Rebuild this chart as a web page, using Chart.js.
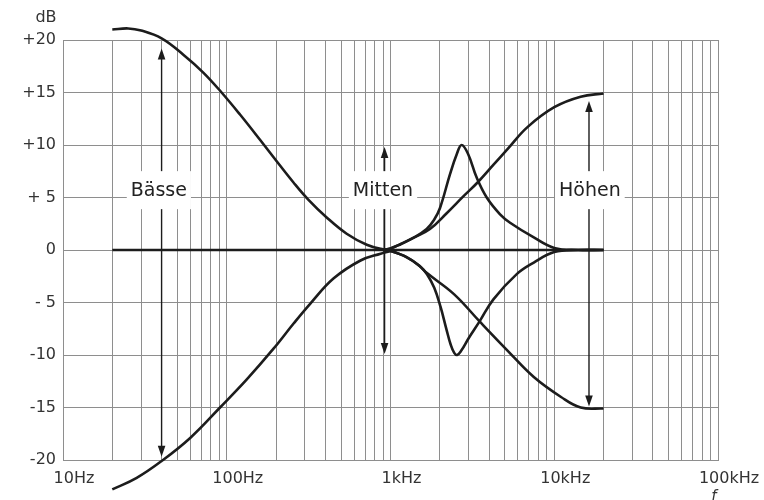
<!DOCTYPE html>
<html><head><meta charset="utf-8">
<script src="https://cdn.jsdelivr.net/npm/chart.js@4/dist/chart.umd.min.js"></script>
<style>html,body{margin:0;padding:0;background:#fff;}canvas{display:block;}</style>
</head><body>
<canvas id="c" width="764" height="500"></canvas>
<script>
// ---- data (frequency in Hz, level in dB) ----
const bassFreqs      = [20, 25, 30, 40, 54.3, 71.9, 93, 120.5, 159.6, 201.8, 254.9, 314.6, 407.6, 540, 716, 904, 1000];
const bassBoostDb    = [21.0, 21.1, 20.9, 20.15, 18.6, 16.9, 15.0, 12.9, 10.5, 8.45, 6.45, 4.8, 3.1, 1.55, 0.5, 0.05, 0];
const bassCutFreqs   = [20, 28.2, 40, 59.8, 91, 133, 193, 256, 324, 450, 656, 870, 1000];
const bassCutDb      = [-22.8, -21.7, -20.1, -17.9, -15.0, -12.3, -9.4, -7.0, -5.1, -2.7, -1.0, -0.35, -0.1];

const midBoostFreqs  = [900, 1000, 1150, 1377, 1663, 1850, 2006, 2307, 2535, 2720, 2986, 3359, 3869, 4667, 5373, 7500, 10000, 14000, 20000];
const midBoostDb     = [0, 0.15, 0.55, 1.15, 2.0, 2.9, 4.0, 7.2, 9.1, 10.0, 9.1, 6.9, 5.0, 3.4, 2.6, 1.2, 0.2, 0, 0];
const midCutFreqs    = [900, 1000, 1260, 1500, 1670, 1850, 2020, 2200, 2330, 2450, 2550, 2700, 3000, 3500, 4250, 5900, 7500, 10000, 14000, 20000];
const midCutDb       = [0, -0.1, -0.7, -1.5, -2.3, -3.6, -5.4, -7.6, -9.0, -9.8, -10.0, -9.6, -8.4, -6.8, -4.7, -2.3, -1.2, -0.2, 0, 0];

const trebleBoostFreqs = [900, 1000, 1150, 1377, 1742, 2203, 2784, 3436, 4245, 5245, 6860, 10000, 14500, 20000];
const trebleBoostDb    = [0, 0.15, 0.55, 1.15, 2.0, 3.5, 5.1, 6.5, 8.1, 9.7, 11.7, 13.6, 14.6, 14.9];
const trebleCutFreqs   = [900, 1000, 1260, 1500, 1670, 2440, 3500, 5200, 7500, 11000, 14500, 20000];
const trebleCutDb      = [0, -0.1, -0.7, -1.5, -2.2, -4.2, -6.8, -9.6, -12.1, -14.0, -15.0, -15.1];

const flatFreqs = [20, 20000];
const flatDb    = [0, 0];

// ---- axis ticks / labels ----
const xDecades      = [10, 100, 1000, 10000];
const xMultipliers  = [1, 2, 3, 4, 5, 6, 7, 8, 9];
const xLabelValues  = [10, 100, 1000, 10000, 100000];
const xLabelTexts   = ['10Hz', '100Hz', '1kHz', '10kHz', '100kHz'];
const yTickValues   = [-20, -15, -10, -5, 0, 5, 10, 15, 20];
const yTickTexts    = ['-20', '-15', '-10', '- 5', '0', '+ 5', '+10', '+15', '+20'];

// ---- annotations ----
const arrowNames  = ['Bässe', 'Mitten', 'Höhen'];
const arrowFreqs  = [40, 920, 16300];
const arrowTopDb  = [19.2, 9.8, 14.2];
const arrowBotDb  = [-19.7, -9.9, -14.9];
const labelFreqs  = [38.5, 900, 16500];
const labelDb     = [5.7, 5.7, 5.7];

function pts(xs, ys) { return xs.map((x, i) => ({ x: x, y: ys[i] })); }

const xGridValues = [];
xDecades.forEach(d => xMultipliers.forEach(m => xGridValues.push(d * m)));
xGridValues.push(100000);

const INK = '#1c1c1c';
const GRID = '#8e8e8e';

function lineDs(data) {
  return {
    data: data, borderColor: INK, borderWidth: 2.6, pointRadius: 0,
    fill: false, tension: 0.4, cubicInterpolationMode: 'default',
    capBezierPoints: false, clip: false
  };
}

const annotationPlugin = {
  id: 'annot',
  afterDatasetsDraw(chart) {
    const ctx = chart.ctx, xs = chart.scales.x, ys = chart.scales.y;
    ctx.save();
    // arrows
    ctx.strokeStyle = INK; ctx.fillStyle = INK; ctx.lineWidth = 1.4;
    arrowFreqs.forEach((f, i) => {
      const x = xs.getPixelForValue(f);
      const yt = ys.getPixelForValue(arrowTopDb[i]);
      const yb = ys.getPixelForValue(arrowBotDb[i]);
      ctx.beginPath(); ctx.moveTo(x, yt + 4); ctx.lineTo(x, yb - 4); ctx.stroke();
      ctx.beginPath(); ctx.moveTo(x, yt); ctx.lineTo(x - 3.8, yt + 11); ctx.lineTo(x + 3.8, yt + 11); ctx.closePath(); ctx.fill();
      ctx.beginPath(); ctx.moveTo(x, yb); ctx.lineTo(x - 3.8, yb - 11); ctx.lineTo(x + 3.8, yb - 11); ctx.closePath(); ctx.fill();
    });
    // labels with white boxes
    ctx.font = '19px "DejaVu Sans"';
    ctx.textAlign = 'center'; ctx.textBaseline = 'middle';
    arrowNames.forEach((t, i) => {
      const x = xs.getPixelForValue(labelFreqs[i]);
      const y = ys.getPixelForValue(labelDb[i]);
      const w = ctx.measureText(t).width + 8;
      ctx.fillStyle = '#fff';
      ctx.fillRect(x - w / 2, y - 19, w, 38);
      ctx.fillStyle = '#222';
      ctx.fillText(t, x, y + 1);
    });
    // axis titles
    ctx.font = '16px "DejaVu Sans"';
    ctx.fillStyle = '#333';
    ctx.fillText('dB', 46, 18);
    ctx.font = 'italic 15px "DejaVu Sans"';
    ctx.textBaseline = 'top';
    ctx.fillText('f', 714, 490);
    ctx.restore();
  }
};

new Chart(document.getElementById('c'), {
  type: 'line',
  data: {
    datasets: [
      lineDs(pts(flatFreqs, flatDb)),
      lineDs(pts(bassFreqs, bassBoostDb)),
      lineDs(pts(bassCutFreqs, bassCutDb)),
      lineDs(pts(midBoostFreqs, midBoostDb)),
      lineDs(pts(midCutFreqs, midCutDb)),
      lineDs(pts(trebleBoostFreqs, trebleBoostDb)),
      lineDs(pts(trebleCutFreqs, trebleCutDb))
    ]
  },
  options: {
    responsive: false,
    animation: false,
    events: [],
    layout: { padding: { top: 40, right: 46, bottom: 0, left: 0 } },
    plugins: { legend: { display: false }, tooltip: { enabled: false } },
    scales: {
      x: {
        type: 'logarithmic', min: 10, max: 100000,
        afterBuildTicks: s => { s.ticks = xGridValues.map(v => ({ value: v })); },
        afterFit: s => { s.height = 40; },
        grid: { color: GRID, lineWidth: 1, drawTicks: false },
        border: { display: true, color: GRID, width: 1 },
        ticks: {
          autoSkip: false, maxRotation: 0, minRotation: 0, padding: 9, labelOffset: 11,
          color: '#333', font: { family: 'DejaVu Sans', size: 16 },
          callback: v => { const i = xLabelValues.indexOf(v); return i >= 0 ? xLabelTexts[i] : ''; }
        }
      },
      y: {
        type: 'linear', min: -20, max: 20,
        afterBuildTicks: s => { s.ticks = yTickValues.map(v => ({ value: v })); },
        afterFit: s => { s.width = 63; },
        grid: { color: GRID, lineWidth: 1, drawTicks: false },
        border: { display: true, color: GRID, width: 1 },
        ticks: {
          padding: 7, color: '#333', font: { family: 'DejaVu Sans', size: 16 },
          callback: v => { const i = yTickValues.indexOf(v); return i >= 0 ? yTickTexts[i] : ''; }
        }
      }
    }
  },
  plugins: [annotationPlugin]
});
</script>
</body></html>
